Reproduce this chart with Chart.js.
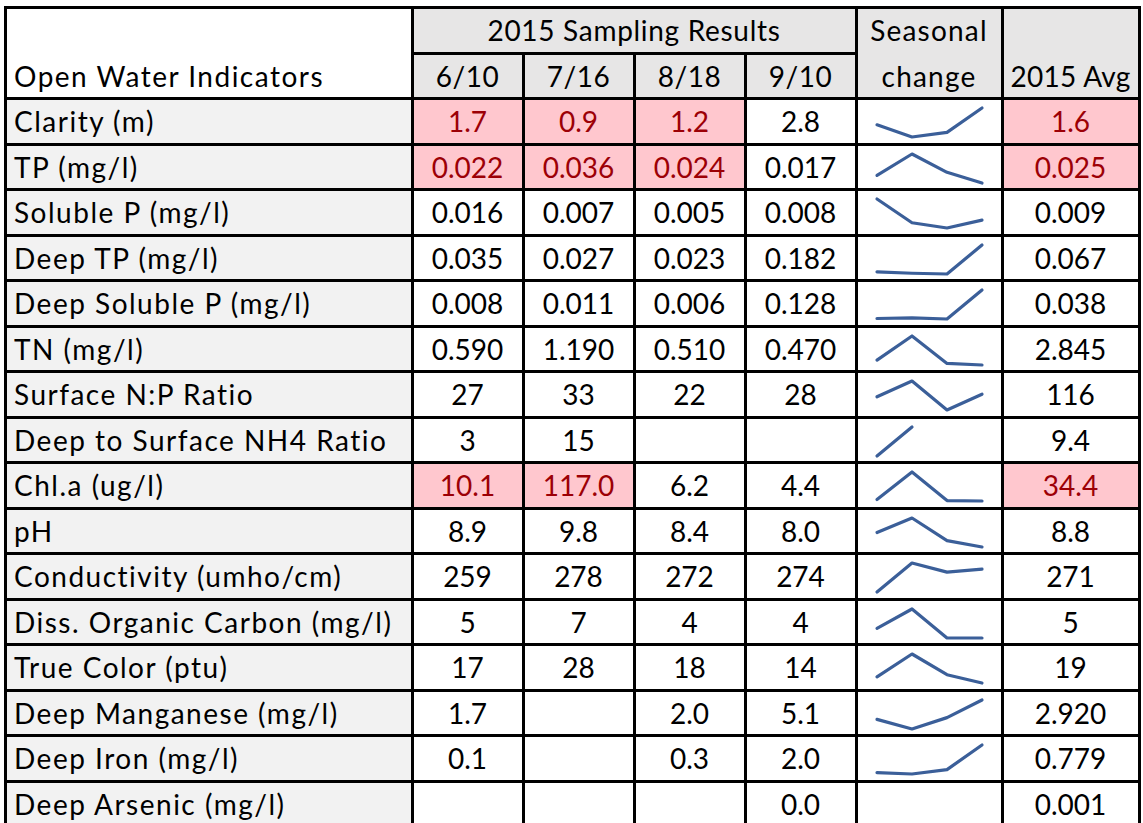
<!DOCTYPE html>
<html lang="en">
<head>
<meta charset="UTF-8">
<title>2015 Open Water Indicators</title>
<script src="https://cdn.jsdelivr.net/npm/chart.js@4.4.9/dist/chart.umd.js"></script>
<style>
  body { margin: 0; background: #fff; font-family: Lato, "Open Sans", sans-serif; }
  #sheet { position: relative; width: 1143px; height: 823px; overflow: hidden; }
  .cell { position: absolute; box-sizing: border-box; display: flex; align-items: center;
          font-size: 28px; color: #000; white-space: nowrap; }
  .bg { position: absolute; }
  .line { position: absolute; background: #000; }
  .spark { position: absolute; }
</style>
</head>
<body>
<div id="sheet"></div>
<script>
const indicators = [
  "Clarity (m)", "TP (mg/l)", "Soluble P (mg/l)", "Deep TP (mg/l)",
  "Deep Soluble P (mg/l)", "TN (mg/l)", "Surface N:P Ratio", "Deep to Surface NH4 Ratio",
  "Chl.a (ug/l)", "pH", "Conductivity (umho/cm)", "Diss. Organic Carbon (mg/l)",
  "True Color (ptu)", "Deep Manganese (mg/l)", "Deep Iron (mg/l)", "Deep Arsenic (mg/l)"
];
const dates = ["6/10", "7/16", "8/18", "9/10"];
const jun10 = [1.7, 0.022, 0.016, 0.035, 0.008, 0.590, 27, 3, 10.1, 8.9, 259, 5, 17, 1.7, 0.1, null];
const jul16 = [0.9, 0.036, 0.007, 0.027, 0.011, 1.190, 33, 15, 117.0, 9.8, 278, 7, 28, null, null, null];
const aug18 = [1.2, 0.024, 0.005, 0.023, 0.006, 0.510, 22, null, 6.2, 8.4, 272, 4, 18, 2.0, 0.3, null];
const sep10 = [2.8, 0.017, 0.008, 0.182, 0.128, 0.470, 28, null, 4.4, 8.0, 274, 4, 14, 5.1, 2.0, 0.0];
const avg2015 = [1.6, 0.025, 0.009, 0.067, 0.038, 2.845, 116, 9.4, 34.4, 8.8, 271, 5, 19, 2.920, 0.779, 0.001];
const dateDecimals = [1, 3, 3, 3, 3, 3, 0, 0, 1, 1, 0, 0, 0, 1, 1, 1];
const avgDecimals  = [1, 3, 3, 3, 3, 3, 0, 1, 1, 1, 0, 0, 0, 3, 3, 3];
// how many sampling columns each sparkline covers (empty cells inside count as zero)
const sparkSpan = [4, 4, 4, 4, 4, 4, 4, 2, 4, 4, 4, 4, 4, 4, 4, 0];
// [row, column] cells over threshold; column 4 = 2015 Avg
const flagged = [[0, 0], [0, 1], [0, 2], [0, 4], [1, 0], [1, 1], [1, 2], [1, 4], [8, 0], [8, 1], [8, 4]];

const series = [jun10, jul16, aug18, sep10];

const colEdges = [5, 412, 523, 634, 745, 856, 1002, 1139];
const rowTop = 7.5, rowH = 45.5;
const rowEdge = i => rowTop + i * rowH;
const sheet = document.getElementById('sheet');

function box(cls, x, y, w, h, style) {
  const d = document.createElement('div');
  d.className = cls;
  Object.assign(d.style, { left: x + 'px', top: y + 'px', width: w + 'px', height: h + 'px' }, style || {});
  sheet.appendChild(d);
  return d;
}
function fill(c0, c1, r0, r1, color) {
  box('bg', colEdges[c0], rowEdge(r0), colEdges[c1] - colEdges[c0], rowEdge(r1) - rowEdge(r0), { background: color });
}
function text(c0, c1, r, str, opts) {
  opts = opts || {};
  const left = opts.align === 'left';
  const d = box('cell', colEdges[c0], rowEdge(r), colEdges[c1] - colEdges[c0], rowH, {
    justifyContent: left ? 'flex-start' : 'center',
    paddingLeft: left ? '9px' : '0',
    color: opts.color || '#000',
    letterSpacing: (opts.spacing || 0) + 'px'
  });
  d.textContent = str;
}
function hline(y, x0, x1) { box('line', x0 - 1.5, y - 1.5, x1 - x0 + 3, 3); }
function vline(x, y0, y1) { box('line', x - 1.5, y0 - 1.5, 3, y1 - y0 + 3); }

const isFlag = (r, c) => flagged.some(f => f[0] === r && f[1] === c);
const fmt = (v, d) => v == null ? '' : v.toFixed(d);

// header
fill(1, 5, 0, 2, '#e7e6e6');
fill(5, 7, 0, 2, '#e7e6e6');
text(0, 1, 1, 'Open Water Indicators', { align: 'left', spacing: 1.5 });
text(1, 5, 0, '2015 Sampling Results', { spacing: 0.7 });
dates.forEach((d, k) => text(k + 1, k + 2, 1, d, { spacing: 0.5 }));
text(5, 6, 0, 'Seasonal', { spacing: 1.2 });
text(5, 6, 1, 'change', { spacing: 1.2 });
text(6, 7, 1, '2015 Avg', { spacing: 0.3 });

// body
indicators.forEach((name, i) => {
  const r = i + 2;
  fill(0, 1, r, r + 1, '#f2f2f2');
  text(0, 1, r, name, { align: 'left', spacing: 1.5 });
  series.forEach((s, k) => {
    const flag = isFlag(i, k);
    if (flag) fill(k + 1, k + 2, r, r + 1, '#ffc7ce');
    text(k + 1, k + 2, r, fmt(s[i], dateDecimals[i]), { color: flag ? '#9c0006' : '#000' });
  });
  const flagA = isFlag(i, 4);
  if (flagA) fill(6, 7, r, r + 1, '#ffc7ce');
  text(6, 7, r, fmt(avg2015[i], avgDecimals[i]), { color: flagA ? '#9c0006' : '#000' });
});

// grid lines
const bottom = rowEdge(indicators.length + 2);
hline(rowEdge(0), colEdges[0], colEdges[7]);
hline(rowEdge(1), colEdges[1], colEdges[5]);
for (let r = 2; r <= indicators.length + 2; r++) hline(rowEdge(r), colEdges[0], colEdges[7]);
[0, 1, 5, 6, 7].forEach(c => vline(colEdges[c], rowEdge(0), bottom));
[2, 3, 4].forEach(c => vline(colEdges[c], rowEdge(1), bottom));

// sparklines
indicators.forEach((name, i) => {
  const span = sparkSpan[i];
  if (!span) return;
  const vals = series.map((s, k) => k < span ? (s[i] == null ? 0 : s[i]) : null);
  const used = vals.filter(v => v != null);
  const top = Math.round(rowEdge(i + 2) + 1.5);
  const cv = document.createElement('canvas');
  cv.className = 'spark';
  cv.width = 142; cv.height = 42;
  cv.style.left = '858px'; cv.style.top = top + 'px';
  sheet.appendChild(cv);
  new Chart(cv, {
    type: 'line',
    data: {
      labels: dates,
      datasets: [{
        data: vals,
        borderColor: '#3b5f99',
        borderWidth: 3.2,
        pointRadius: 0,
        tension: 0,
        spanGaps: false,
        clip: false,
        borderJoinStyle: 'round',
        borderCapStyle: 'round'
      }]
    },
    options: {
      responsive: false,
      animation: false,
      devicePixelRatio: 1,
      events: [],
      layout: { padding: { left: 19, right: 18, top: 8, bottom: 5 } },
      plugins: { legend: { display: false }, tooltip: { enabled: false } },
      scales: {
        x: { display: false, offset: false },
        y: { display: false, min: Math.min(...used), max: Math.max(...used) }
      }
    }
  });
});
</script>
</body>
</html>
